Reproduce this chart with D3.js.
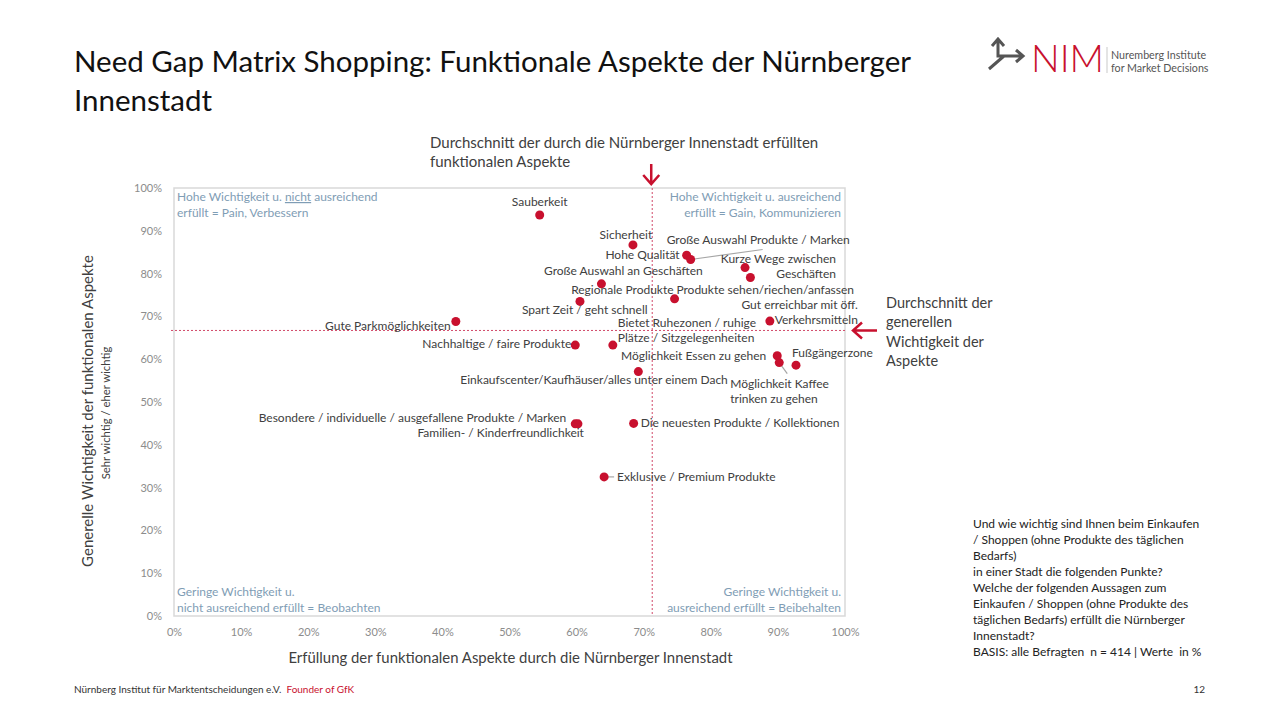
<!DOCTYPE html>
<html>
<head>
<meta charset="utf-8">
<script src="https://cdn.jsdelivr.net/npm/d3@7/dist/d3.min.js"></script>
<style>
  html, body { margin: 0; padding: 0; background: #fff; }
  svg { display: block; font-family: Lato, "Open Sans", sans-serif; }
</style>
</head>
<body>
<svg id="chart" width="1280" height="720"></svg>
<script>
// Aspects (x = Erfüllung %, y = Wichtigkeit %)
const aspects = [
  'Sauberkeit', 'Sicherheit', 'Hohe Qualität', 'Große Auswahl Produkte / Marken',
  'Kurze Wege zwischen Geschäften', 'Produkte sehen/riechen/anfassen',
  'Große Auswahl an Geschäften', 'Regionale Produkte', 'Spart Zeit / geht schnell',
  'Gut erreichbar mit öff. Verkehrsmitteln', 'Gute Parkmöglichkeiten',
  'Bietet Ruhezonen / ruhige Plätze / Sitzgelegenheiten', 'Nachhaltige / faire Produkte',
  'Möglichkeit Essen zu gehen', 'Möglichkeit Kaffee trinken zu gehen', 'Fußgängerzone',
  'Einkaufscenter/Kaufhäuser/alles unter einem Dach',
  'Besondere / individuelle / ausgefallene Produkte / Marken',
  'Familien- / Kinderfreundlichkeit', 'Die neuesten Produkte / Kollektionen',
  'Exklusive / Premium Produkte'
];
const erfuellung = [54.5, 68.4, 76.4, 77.0, 85.1, 85.9, 63.7, 74.6, 60.5, 88.8, 42.0,
                    65.4, 59.8, 89.9, 90.2, 92.7, 69.2, 59.8, 60.2, 68.5, 64.1];
const wichtigkeit = [93.7, 86.7, 84.3, 83.3, 81.4, 79.1, 77.6, 74.1, 73.5, 68.9, 68.8,
                     63.3, 63.3, 60.8, 59.2, 58.6, 57.1, 44.9, 44.9, 45.0, 32.5];
const tickValues = [0, 10, 20, 30, 40, 50, 60, 70, 80, 90, 100];

// label placement relative to the dot: [dx, dy, anchor, lines, leader]
const labelLayout = {
  'Sauberkeit': [0, -9, 'middle'],
  'Sicherheit': [-7, -6, 'middle'],
  'Hohe Qualität': [-7, 4, 'end'],
  'Große Auswahl Produkte / Marken': [-24, -15, 'start', null, [72, -10]],
  'Kurze Wege zwischen Geschäften': [91, -5, 'end', ['Kurze Wege zwischen', 'Geschäften']],
  'Produkte sehen/riechen/anfassen': [-74, 17, 'start'],
  'Große Auswahl an Geschäften': [22, -9, 'middle'],
  'Regionale Produkte': [-1, -5, 'end'],
  'Spart Zeit / geht schnell': [-58, 13, 'start'],
  'Gut erreichbar mit öff. Verkehrsmitteln': [88, -12, 'end', ['Gut erreichbar mit öff.', 'Verkehrsmitteln']],
  'Gute Parkmöglichkeiten': [-5, 8, 'end'],
  'Bietet Ruhezonen / ruhige Plätze / Sitzgelegenheiten': [5, -18, 'start', ['Bietet Ruhezonen / ruhige', 'Plätze / Sitzgelegenheiten']],
  'Nachhaltige / faire Produkte': [-4, 3, 'end'],
  'Möglichkeit Essen zu gehen': [-11, 4, 'end'],
  'Möglichkeit Kaffee trinken zu gehen': [-49, 25, 'start', ['Möglichkeit Kaffee', 'trinken zu gehen'], [8, 11]],
  'Fußgängerzone': [-4, -8, 'start'],
  'Einkaufscenter/Kaufhäuser/alles unter einem Dach': [-178, 12, 'start'],
  'Besondere / individuelle / ausgefallene Produkte / Marken': [-9, -2, 'end'],
  'Familien- / Kinderfreundlichkeit': [6, 13, 'end'],
  'Die neuesten Produkte / Kollektionen': [7, 4, 'start'],
  'Exklusive / Premium Produkte': [13, 4, 'start', null, [10, 0]]
};

const points = aspects.map((name, i) => ({ name, x: erfuellung[i], y: wichtigkeit[i] }));
const avgX = d3.mean(erfuellung);
const avgY = d3.mean(wichtigkeit);

const svg = d3.select('#chart');
const red = '#c8102e';
const textColor = '#404040';
const quadColor = '#7f9db5';

const x = d3.scaleLinear().domain([0, 100]).range([174, 845]);
const y = d3.scaleLinear().domain([0, 100]).range([616, 188]);

// title
svg.append('text')
  .attr('x', 74).attr('y', 0)
  .attr('font-size', 29.5).attr('fill', '#111')
  .selectAll('tspan')
  .data(['Need Gap Matrix Shopping: Funktionale Aspekte der Nürnberger', 'Innenstadt'])
  .enter().append('tspan')
  .attr('x', 74).attr('y', (d, i) => 72 + i * 39)
  .text(d => d);

// logo
const logo = svg.append('g');
logo.append('path')
  .attr('d', 'M998,40 L998,56 L1022,56 M992,46 L998,39 L1004,46 M1016,50 L1023,56 L1016,62 M1004,56 L989,69')
  .attr('fill', 'none').attr('stroke', '#555').attr('stroke-width', 3);
logo.append('text')
  .attr('x', 1031).attr('y', 72)
  .attr('font-size', 37).attr('font-weight', 300).attr('fill', red)
  .attr('textLength', 73).attr('lengthAdjust', 'spacingAndGlyphs')
  .text('NIM');
logo.append('line')
  .attr('x1', 1107).attr('x2', 1107).attr('y1', 47).attr('y2', 73)
  .attr('stroke', '#bbb').attr('stroke-width', 0.8);
logo.append('text')
  .attr('font-size', 10.7).attr('fill', '#555')
  .selectAll('tspan')
  .data(['Nuremberg Institute', 'for Market Decisions'])
  .enter().append('tspan')
  .attr('x', 1111).attr('y', (d, i) => 59 + i * 13)
  .text(d => d);

// plot frame
svg.append('rect')
  .attr('x', x(0)).attr('y', y(100))
  .attr('width', x(100) - x(0)).attr('height', y(0) - y(100))
  .attr('fill', 'none').attr('stroke', '#d9d9d9').attr('stroke-width', 1.5);

// axes
const xAxis = svg.append('g')
  .attr('transform', `translate(0,${y(0)})`)
  .call(d3.axisBottom(x).tickValues(tickValues).tickSize(0).tickPadding(12).tickFormat(d => d + '%'));
const yAxis = svg.append('g')
  .attr('transform', `translate(${x(0)},0)`)
  .call(d3.axisLeft(y).tickValues(tickValues).tickSize(0).tickPadding(12).tickFormat(d => d + '%'));
[xAxis, yAxis].forEach(ax => {
  ax.select('.domain').remove();
  ax.selectAll('text')
    .attr('font-family', 'Lato, sans-serif')
    .attr('font-size', 11).attr('fill', '#8c8c8c');
});

// average lines
svg.append('line')
  .attr('x1', x(avgX)).attr('x2', x(avgX)).attr('y1', y(100)).attr('y2', y(0))
  .attr('stroke', '#d24a6a').attr('stroke-width', 1).attr('stroke-dasharray', '2,2');
svg.append('line')
  .attr('x1', x(0) - 3).attr('x2', x(100)).attr('y1', y(avgY)).attr('y2', y(avgY))
  .attr('stroke', '#d24a6a').attr('stroke-width', 1).attr('stroke-dasharray', '2,2');

// quadrant captions
function quadText(px, py, anchor, lines) {
  const t = svg.append('text')
    .attr('font-size', 12).attr('fill', quadColor).attr('text-anchor', anchor);
  lines.forEach((l, i) => {
    const ts = t.append('tspan').attr('x', px).attr('y', py + i * 16);
    l.forEach(part => {
      ts.append('tspan')
        .attr('text-decoration', part.u ? 'underline' : null)
        .text(part.t);
    });
  });
}
quadText(x(0) + 3, 201, 'start', [
  [{ t: 'Hohe Wichtigkeit u. ' }, { t: 'nicht', u: true }, { t: ' ausreichend' }],
  [{ t: 'erfüllt = Pain, Verbessern' }]
]);
quadText(x(100) - 4, 201, 'end', [
  [{ t: 'Hohe Wichtigkeit u. ausreichend' }],
  [{ t: 'erfüllt = Gain, Kommunizieren' }]
]);
quadText(x(0) + 3, 596, 'start', [
  [{ t: 'Geringe Wichtigkeit u.' }],
  [{ t: 'nicht ausreichend erfüllt = Beobachten' }]
]);
quadText(x(100) - 4, 596, 'end', [
  [{ t: 'Geringe Wichtigkeit u.' }],
  [{ t: 'ausreichend erfüllt = Beibehalten' }]
]);

// leader lines
const leaders = svg.append('g');
points.forEach(p => {
  const lay = labelLayout[p.name];
  if (lay && lay[4]) {
    leaders.append('line')
      .attr('x1', x(p.x)).attr('y1', y(p.y))
      .attr('x2', x(p.x) + lay[4][0]).attr('y2', y(p.y) + lay[4][1])
      .attr('stroke', '#a6a6a6').attr('stroke-width', 1.2);
  }
});

// dots
svg.append('g')
  .selectAll('circle')
  .data(points)
  .enter().append('circle')
  .attr('cx', d => x(d.x))
  .attr('cy', d => y(d.y))
  .attr('r', 4.5)
  .attr('fill', red);

// point labels
const labels = svg.append('g')
  .attr('font-size', 12).attr('fill', textColor)
  .selectAll('text')
  .data(points)
  .enter().append('text')
  .attr('text-anchor', d => labelLayout[d.name][2]);
labels.each(function(d) {
  const lay = labelLayout[d.name];
  const lines = lay[3] || [d.name];
  d3.select(this).selectAll('tspan')
    .data(lines)
    .enter().append('tspan')
    .attr('x', x(d.x) + lay[0])
    .attr('y', (l, i) => y(d.y) + lay[1] + i * 15)
    .text(l => l);
});

// axis titles
svg.append('text')
  .attr('x', (x(0) + x(100)) / 2 + 1).attr('y', 663)
  .attr('text-anchor', 'middle').attr('font-size', 14.9).attr('fill', textColor)
  .text('Erfüllung der funktionalen Aspekte durch die Nürnberger Innenstadt');
svg.append('text')
  .attr('transform', `translate(93,${(y(0) + y(100)) / 2 + 9}) rotate(-90)`)
  .attr('text-anchor', 'middle').attr('font-size', 15).attr('fill', textColor)
  .text('Generelle Wichtigkeit der funktionalen Aspekte');
svg.append('text')
  .attr('transform', `translate(110,${(y(0) + y(100)) / 2 + 11}) rotate(-90)`)
  .attr('text-anchor', 'middle').attr('font-size', 11.3).attr('fill', textColor)
  .text('Sehr wichtig / eher wichtig');

// average annotations
svg.append('text')
  .attr('font-size', 15).attr('fill', textColor)
  .selectAll('tspan')
  .data(['Durchschnitt der durch die Nürnberger Innenstadt erfüllten', 'funktionalen Aspekte'])
  .enter().append('tspan')
  .attr('x', 430).attr('y', (d, i) => 148 + i * 19)
  .text(d => d);
svg.append('path')
  .attr('d', `M${x(avgX) - 1},164 L${x(avgX) - 1},184 M${x(avgX) - 9},175 L${x(avgX) - 1},184 L${x(avgX) + 7},175`)
  .attr('fill', 'none').attr('stroke', red).attr('stroke-width', 2.5);

svg.append('text')
  .attr('font-size', 14.5).attr('fill', textColor)
  .selectAll('tspan')
  .data(['Durchschnitt der', 'generellen', 'Wichtigkeit der', 'Aspekte'])
  .enter().append('tspan')
  .attr('x', 886).attr('y', (d, i) => 308 + i * 19.3)
  .text(d => d);
svg.append('path')
  .attr('d', `M877,${y(avgY)} L853,${y(avgY)} M862,${y(avgY) - 8} L853,${y(avgY)} L862,${y(avgY) + 8}`)
  .attr('fill', 'none').attr('stroke', red).attr('stroke-width', 2.5);

// question / base note
svg.append('text')
  .attr('font-size', 12).attr('fill', '#222')
  .selectAll('tspan')
  .data([
    'Und wie wichtig sind Ihnen beim Einkaufen',
    '/ Shoppen (ohne Produkte des täglichen',
    'Bedarfs)',
    'in einer Stadt die folgenden Punkte?',
    'Welche der folgenden Aussagen zum',
    'Einkaufen / Shoppen (ohne Produkte des',
    'täglichen Bedarfs) erfüllt die Nürnberger',
    'Innenstadt?',
    'BASIS: alle Befragten  n = 414 | Werte  in %'
  ])
  .enter().append('tspan')
  .attr('x', 973).attr('y', (d, i) => 528 + i * 16)
  .attr('xml:space', 'preserve')
  .text(d => d);

// footer
const footer = svg.append('text')
  .attr('x', 74).attr('y', 693)
  .attr('font-size', 10).attr('fill', '#333');
footer.append('tspan').text('Nürnberg Institut für Marktentscheidungen e.V.');
footer.append('tspan').attr('dx', 5).attr('fill', red).text('Founder of GfK');
svg.append('text')
  .attr('x', 1205).attr('y', 693).attr('text-anchor', 'end')
  .attr('font-size', 10).attr('fill', '#333')
  .text('12');
</script>
</body>
</html>
